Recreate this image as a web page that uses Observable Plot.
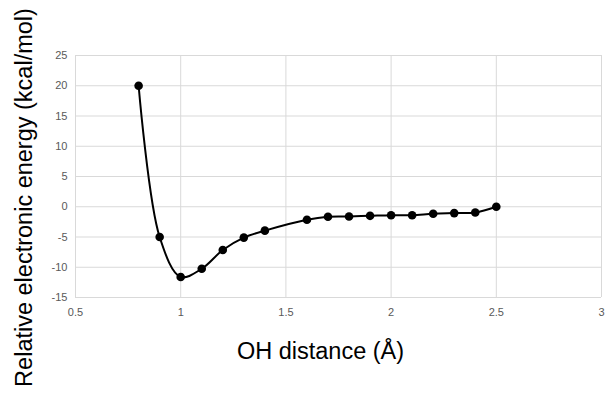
<!DOCTYPE html>
<html>
<head>
<meta charset="utf-8">
<script src="https://cdn.jsdelivr.net/npm/d3@7"></script>
<script src="https://cdn.jsdelivr.net/npm/@observablehq/plot@0.6"></script>
<style>
  html, body { margin: 0; padding: 0; background: #fff; }
  #chart svg { display: block; }
</style>
</head>
<body>
<div id="chart"></div>
<script>
const ohDistance = [0.8, 0.9, 1.0, 1.1, 1.2, 1.3, 1.4, 1.6, 1.7, 1.8, 1.9, 2.0, 2.1, 2.2, 2.3, 2.4, 2.5];
const energy = [20.0, -5.0, -11.6, -10.25, -7.15, -5.1, -3.95, -2.15, -1.65, -1.6, -1.5, -1.4, -1.4, -1.15, -1.05, -0.95, 0.0];
const xTicks = [0.5, 1, 1.5, 2, 2.5, 3];
const yTicks = [-15, -10, -5, 0, 5, 10, 15, 20, 25];
const xLabel = "OH distance (Å)";
const yLabel = "Relative electronic energy (kcal/mol)";

const data = ohDistance.map((x, i) => ({x, y: energy[i]}));

const chart = Plot.plot({
  width: 607,
  height: 394,
  marginLeft: 75,
  marginRight: 6,
  marginTop: 55,
  marginBottom: 97,
  style: {fontFamily: "'Liberation Sans', Arial, Helvetica, sans-serif", background: "#fff"},
  x: {domain: [0.5, 3], ticks: xTicks},
  y: {domain: [-15, 25], ticks: yTicks},
  marks: [
    Plot.gridX(xTicks, {stroke: "#d9d9d9", strokeOpacity: 1, strokeWidth: 1}),
    Plot.gridY(yTicks, {stroke: "#d9d9d9", strokeOpacity: 1, strokeWidth: 1}),
    Plot.axisX(xTicks, {tickSize: 0, tickPadding: 11, fontSize: 11, fill: "#595959", label: null, tickFormat: d => String(d)}),
    Plot.axisY(yTicks, {tickSize: 0, tickPadding: 8, fontSize: 11, fill: "#595959", label: null, tickFormat: d => String(d)}),
    Plot.line(data, {x: "x", y: "y", curve: "catmull-rom", stroke: "#000", strokeWidth: 2}),
    Plot.dot(data, {x: "x", y: "y", r: 4.3, fill: "#000", stroke: "none"}),
    Plot.text([xLabel], {text: d => d, frameAnchor: "bottom", dx: -18, dy: 61, fontSize: 23.5, fill: "#000"}),
    Plot.text([yLabel], {text: d => d, frameAnchor: "left", textAnchor: "middle", dx: -51, dy: 21, rotate: -90, fontSize: 23.5, fill: "#000"})
  ]
});
document.getElementById("chart").append(chart);
</script>
</body>
</html>
